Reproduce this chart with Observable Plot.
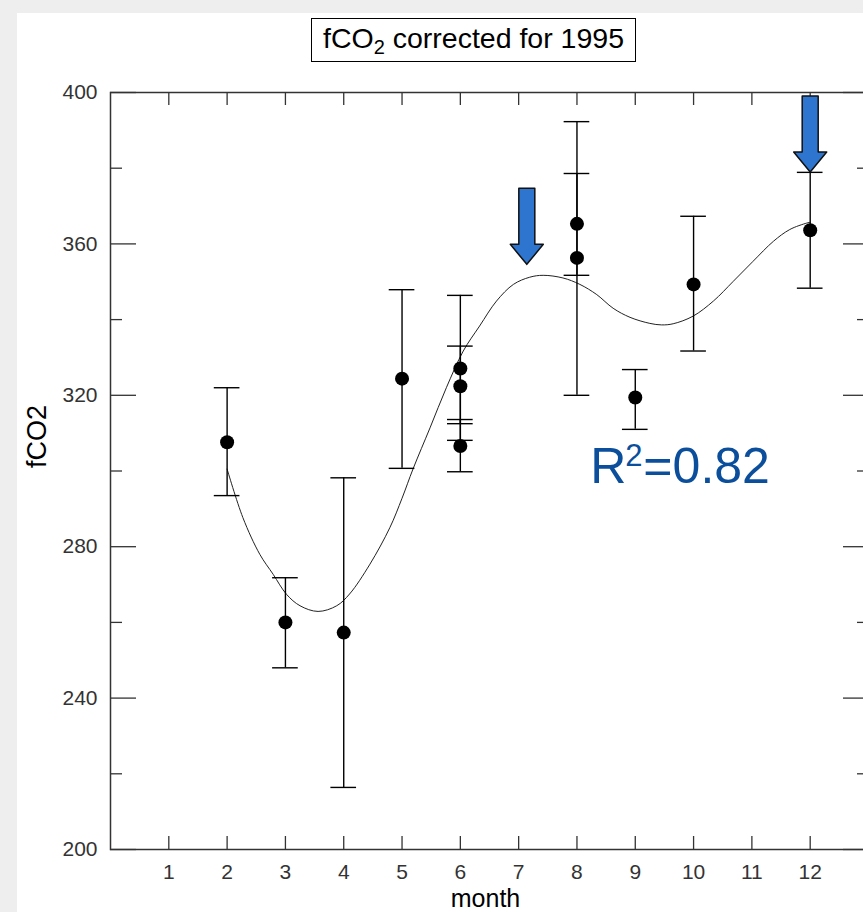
<!DOCTYPE html>
<html>
<head>
<meta charset="utf-8">
<script src="https://cdn.jsdelivr.net/npm/d3@7"></script>
<script src="https://cdn.jsdelivr.net/npm/@observablehq/plot@0.6"></script>
<style>
  html, body { margin: 0; padding: 0; width: 863px; height: 912px; overflow: hidden; background: #eeeeee;
    font-family: "Liberation Sans", Arial, sans-serif; }
  #card { position: absolute; left: 17px; top: 13px; right: 0; bottom: 0; background: #ffffff; }
  #chart { position: absolute; left: 0; top: 0; width: 900px; height: 912px; }
  #chart svg { max-width: none !important; width: 900px !important; height: 912px !important; }
  #title { position: absolute; left: 311px; top: 18px; width: 325px; height: 44px; box-sizing: border-box;
    border: 1px solid #000; background: #fff; display: flex; align-items: center; justify-content: center;
    font-size: 28.5px; color: #000; line-height: 1; padding-bottom: 4px; white-space: nowrap; }
  #title sub { font-size: 20px; vertical-align: -6px; line-height: 0; }
</style>
</head>
<body>
<div id="card"></div>
<div id="chart"></div>
<div id="title"><span>fCO<sub>2</sub> corrected for 1995</span></div>
<script>
// ---- data ----
const months   = [2, 3, 4, 5, 6, 6, 6, 8, 8, 9, 10, 12];
const fco2     = [307.6, 260.0, 257.3, 324.4, 327.1, 322.4, 306.6, 365.3, 356.3, 319.4, 349.3, 363.6];
const errLow   = [293.5, 248.0, 216.4, 300.7, 308.1, 312.5, 299.8, 351.7, 320.0, 311.0, 331.7, 348.3];
const errHigh  = [322.0, 271.8, 298.2, 347.9, 346.4, 333.0, 313.6, 378.6, 392.3, 326.8, 367.3, 378.9];

// fitted curve
const curveMonth = [2.0, 2.27, 2.56, 2.79, 3.02, 3.25, 3.56, 3.88, 4.10, 4.45, 4.79, 5.0, 5.19, 5.48, 5.76, 6.05,
  6.33, 6.62, 6.91, 7.19, 7.42, 7.76, 8.05, 8.34, 8.62, 8.91, 9.25, 9.45, 9.65, 9.99, 10.34, 10.68, 11.02, 11.37, 11.65, 11.94, 12.0];
const curveValue = [300.5, 287.7, 278.0, 272.7, 267.4, 264.4, 262.9, 264.4, 267.5, 275.4, 285.0, 292.8, 300.6, 311.4, 322.0, 331.7,
  338.3, 344.9, 349.3, 351.2, 351.7, 351.0, 349.3, 346.6, 343.0, 340.6, 339.0, 338.6, 338.9, 340.9, 344.9, 350.1, 355.4, 360.7, 363.8, 365.5, 365.7];

// annotation arrows (tip positions)
const arrowMonth = [7.14, 12.0];
const arrowValue = [354.6, 379.0];

const xTicks = [1, 2, 3, 4, 5, 6, 7, 8, 9, 10, 11, 12];
const yMajor = [200, 240, 280, 320, 360, 400];
const yMinor = [220, 260, 300, 340, 380];

// R^2 annotation anchor (month, fCO2 at baseline)
const r2Month = 8.23;
const r2Value = 296.8;

// ---- tables ----
const points = months.map((m, i) => ({month: m, value: fco2[i], lo: errLow[i], hi: errHigh[i]}));
const fit = curveMonth.map((m, i) => ({month: m, value: curveValue[i]}));
const arrows = arrowMonth.map((m, i) => ({month: m, value: arrowValue[i]}));
const r2 = [{month: r2Month, value: r2Value}];

const capHalf = 0.22; // months
const axisColor = "#333";
const font = "Liberation Sans, Arial, sans-serif";
const r2Color = "#0B4F9C";

const blockArrow = {
  draw(ctx, l) {
    const sw = 8, hw = 16.5, hl = 20;
    ctx.moveTo(-sw, 0);
    ctx.lineTo(-sw, -(l - hl));
    ctx.lineTo(-hw, -(l - hl));
    ctx.lineTo(0, -l);
    ctx.lineTo(hw, -(l - hl));
    ctx.lineTo(sw, -(l - hl));
    ctx.lineTo(sw, 0);
    ctx.closePath();
  }
};

const chart = Plot.plot({
  width: 900,
  height: 912,
  marginLeft: 110,
  marginRight: 32,
  marginTop: 92,
  marginBottom: 63,
  x: {domain: [0, 13]},
  y: {domain: [200, 400]},
  style: {fontFamily: font, background: "transparent", overflow: "visible", color: "#000", maxWidth: "none"},
  marks: [
    Plot.frame({stroke: axisColor, strokeWidth: 1.5}),
    // inward ticks
    Plot.axisY({anchor: "left", ticks: yMajor, tickSize: -26, fill: "none", stroke: axisColor, strokeWidth: 1.3, label: null}),
    Plot.axisY({anchor: "left", ticks: yMinor, tickSize: -12, fill: "none", stroke: axisColor, strokeWidth: 1.3, label: null}),
    Plot.axisY({anchor: "right", ticks: yMajor, tickSize: -26, fill: "none", stroke: axisColor, strokeWidth: 1.3, label: null}),
    Plot.axisY({anchor: "right", ticks: yMinor, tickSize: -12, fill: "none", stroke: axisColor, strokeWidth: 1.3, label: null}),
    Plot.axisX({anchor: "bottom", ticks: xTicks, tickSize: -13, fill: "none", stroke: axisColor, strokeWidth: 1.3, label: null}),
    Plot.axisX({anchor: "top", ticks: xTicks, tickSize: -12, fill: "none", stroke: axisColor, strokeWidth: 1.3, label: null}),
    // tick labels
    Plot.axisY({anchor: "left", ticks: yMajor, tickSize: 0, tickPadding: 13, fontSize: 21, fill: "#333", label: null}),
    Plot.axisX({anchor: "bottom", ticks: xTicks, tickSize: 0, tickPadding: 15, fontSize: 21, fill: "#333", label: null}),
    // axis titles
    Plot.text(["fCO2"], {text: d => d, frameAnchor: "left", rotate: -90, dx: -73, dy: -3, fontSize: 27, fill: "#000"}),
    Plot.text(["month"], {text: d => d, frameAnchor: "bottom", lineAnchor: "bottom", dx: -4, dy: 57.5, fontSize: 25, fill: "#000"}),
    // fitted curve
    Plot.line(fit, {x: "month", y: "value", curve: "catmull-rom", stroke: "#222", strokeWidth: 1}),
    // error bars
    Plot.ruleX(points, {x: "month", y1: "lo", y2: "hi", stroke: "#000", strokeWidth: 1.4}),
    Plot.ruleY(points, {y: "lo", x1: d => d.month - capHalf, x2: d => d.month + capHalf, stroke: "#000", strokeWidth: 1.4}),
    Plot.ruleY(points, {y: "hi", x1: d => d.month - capHalf, x2: d => d.month + capHalf, stroke: "#000", strokeWidth: 1.4}),
    Plot.dot(points, {x: "month", y: "value", r: 7, fill: "#000", stroke: "none"}),
    // arrows
    Plot.vector(arrows, {x: "month", y: "value", length: 76, rotate: 180, anchor: "end", shape: blockArrow,
      fill: "#2E75CF", stroke: "#111", strokeWidth: 1.5}),
    // R^2 annotation: "R", superscript "2", "=0.82"
    Plot.text(r2, {x: "month", y: "value", text: () => "R", textAnchor: "start", lineAnchor: "bottom", fontSize: 50, fill: r2Color}),
    Plot.text(r2, {x: "month", y: "value", text: () => "2", textAnchor: "start", lineAnchor: "bottom", dx: 35, dy: -17, fontSize: 31, fill: r2Color}),
    Plot.text(r2, {x: "month", y: "value", text: () => "=0.82", textAnchor: "start", lineAnchor: "bottom", dx: 53, fontSize: 50, fill: r2Color})
  ]
});
document.getElementById("chart").appendChild(chart);
</script>
</body>
</html>
